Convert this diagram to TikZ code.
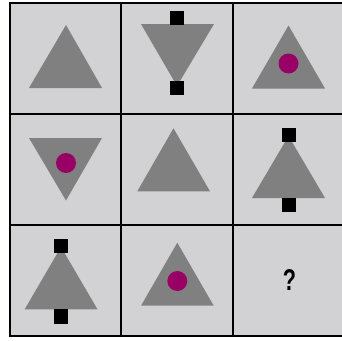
\documentclass[tikz,border=0pt]{standalone}
\usepackage{fontspec}
\newfontfamily\qfont{Liberation Sans}
\definecolor{cellbg}{RGB}{210,210,212}
\definecolor{trigray}{RGB}{128,128,128}
\definecolor{dotcol}{RGB}{153,0,102}
\tikzset{
  cellfill/.style={fill=cellbg},
  grid line/.style={draw=black,line width=2pt},
  tri/.style={fill=trigray},
  dot/.style={fill=dotcol},
  blk/.style={fill=black},
}
\begin{document}
\begin{tikzpicture}[x=1pt,y=-1pt]
\useasboundingbox (0,0) rectangle (342,340);
\fill[white] (0,0) rectangle (342,340);
\fill[cellfill] (10,3) rectangle (343,336);
% row 1
\fill[tri] (66,25) -- (102,88) -- (29,88) -- cycle;
\fill[tri] (141,24) -- (214,24) -- (177,86) -- cycle;
\fill[blk] (170,11) rectangle (184,25);
\fill[blk] (170,81) rectangle (184,95);
\fill[tri] (288.5,25.5) -- (325,88.5) -- (252,88.5) -- cycle;
\fill[dot] (288.5,63.5) circle (10);
% row 2
\fill[tri] (29,138) -- (102,138) -- (66,200.5) -- cycle;
\fill[dot] (66,163) circle (10);
\fill[tri] (173.5,128.3) -- (210,191.3) -- (137.3,191.3) -- cycle;
\fill[tri] (288.5,136) -- (325,198) -- (252,198) -- cycle;
\fill[blk] (282,128) rectangle (296,142);
\fill[blk] (282,198) rectangle (296,212);
% row 3
\fill[tri] (61,247) -- (97.5,309.3) -- (24.7,309.3) -- cycle;
\fill[blk] (54,239) rectangle (68,253);
\fill[blk] (54,309.3) rectangle (68,323.5);
\fill[tri] (177.3,242.7) -- (213.7,305.7) -- (141,305.7) -- cycle;
\fill[dot] (177.3,281) circle (10);
\node[font=\qfont\bfseries\fontsize{30}{30}\selectfont,xscale=0.72,inner sep=0] (q) at (289.5,280.5) {?};
% grid
\draw[grid line] (10,3) rectangle (343,336);
\draw[grid line] (121,3) -- (121,336);
\draw[grid line] (232.5,3) -- (232.5,336);
\draw[grid line] (10,114) -- (343,114);
\draw[grid line] (10,225) -- (343,225);
\end{tikzpicture}
\end{document}
